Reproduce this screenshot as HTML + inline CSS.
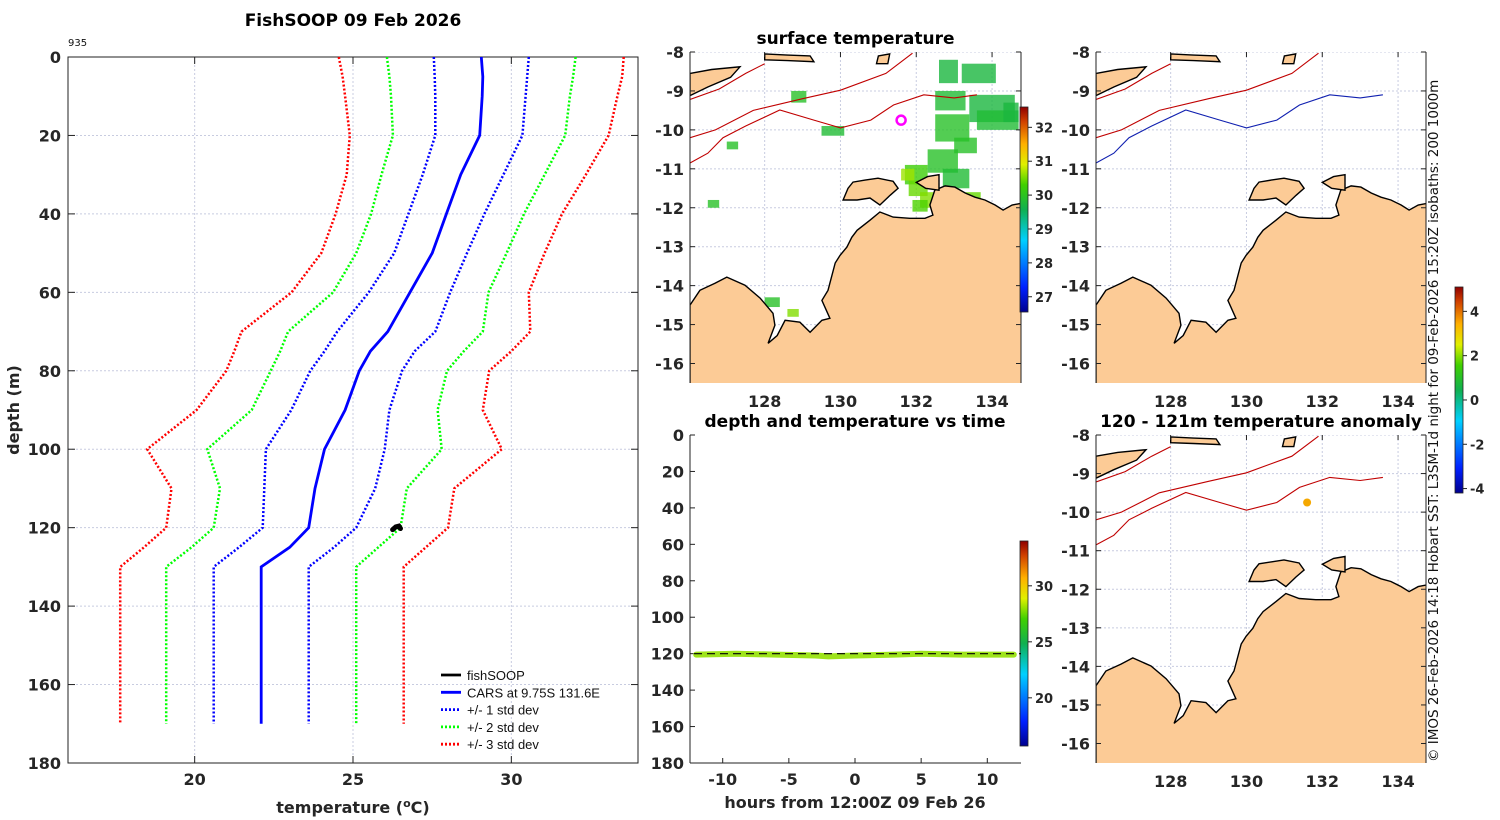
<!DOCTYPE html>
<html><head><meta charset="utf-8"><style>
html,body{margin:0;padding:0;background:#fff}
svg{display:block;font-family:"DejaVu Sans","Liberation Sans",sans-serif}
.tk{font-weight:bold;font-size:16px;fill:#262626}
.tt{font-weight:bold;font-size:17px;fill:#000}
</style></head><body>
<svg id="fig" width="1500" height="820" viewBox="0 0 1500 820" xmlns="http://www.w3.org/2000/svg">
<defs>
<linearGradient id="jet" x1="0" y1="1" x2="0" y2="0">
<stop offset="0" stop-color="#00008f"/><stop offset="0.12" stop-color="#0020ff"/><stop offset="0.35" stop-color="#00d0ff"/><stop offset="0.5" stop-color="#10b050"/><stop offset="0.62" stop-color="#40d000"/><stop offset="0.72" stop-color="#e0f000"/><stop offset="0.82" stop-color="#ffb000"/><stop offset="0.93" stop-color="#d04000"/><stop offset="1" stop-color="#8f0000"/>
</linearGradient>
<clipPath id="c1"><rect x="690" y="52" width="331" height="331"/></clipPath>
<clipPath id="c2"><rect x="1096" y="52" width="330" height="331"/></clipPath>
<clipPath id="c3"><rect x="1096" y="435" width="330" height="328"/></clipPath>
</defs>
<g id="main"></g>
<g id="maps"></g>
<g id="tv"></g>
<text x="0" y="0" transform="translate(1438,762) rotate(-90)" font-size="13.5" fill="#111">© IMOS 26-Feb-2026 14:18 Hobart SST: L3SM-1d night for 09-Feb-2026 15:20Z isobaths: 200  1000m</text>
</svg>
<script>
// ---- profile data ----
const depths = [0,5,10,20,30,40,50,60,70,75,80,90,100,110,120,125,130,170];
const meanT  = [29.05,29.1,29.08,29.0,28.4,27.95,27.5,26.8,26.1,25.55,25.2,24.75,24.1,23.8,23.6,23.0,22.1,22.1];
const m1sd   = [27.55,27.58,27.6,27.6,27.2,26.75,26.3,25.5,24.5,24.1,23.65,23.05,22.25,22.2,22.15,21.4,20.6,20.6];
const p1sd   = [30.55,30.5,30.45,30.35,29.75,29.15,28.6,28.07,27.6,26.95,26.55,26.15,26.0,25.7,25.1,24.4,23.6,23.6];
const m2sd   = [26.07,26.15,26.2,26.26,25.9,25.57,25.1,24.37,22.95,22.7,22.4,21.8,20.4,20.8,20.6,19.9,19.1,19.1];
const p2sd   = [32.03,31.95,31.85,31.7,31.05,30.4,29.85,29.28,29.1,28.5,27.97,27.67,27.8,26.7,26.5,25.8,25.1,25.1];
const m3sd   = [24.55,24.67,24.75,24.9,24.8,24.45,24.0,23.06,21.48,21.25,21.0,20.06,18.5,19.27,19.1,18.4,17.65,17.65];
const p3sd   = [33.55,33.5,33.35,33.07,32.35,31.6,31.05,30.55,30.6,30.0,29.3,29.1,29.7,28.2,28.0,27.3,26.6,26.6];
const fishT  = [26.25,26.35,26.45,26.5];
const fishD  = [120.5,119.8,119.6,120.2];
const tempTicks = [20,25,30];
const depthTicks = [0,20,40,60,80,100,120,140,160,180];
// ---- time panel data ----
const hours = [-12,-9,-6,-3,-2,0,3,5,8,12];
const hourDepth = [120.5,120,120.5,121,121.5,121,120.5,120,120.5,120.5];
const hourTicks = [-10,-5,0,5,10];
const tvDepthTicks = [0,20,40,60,80,100,120,140,160,180];
// ---- map data ----
const lonTicks = [128,130,132,134];
const latTicks = [-8,-9,-10,-11,-12,-13,-14,-15,-16];
const coastLon = [126.03,126.29,126.69,127.0,127.48,127.88,128.22,128.27,128.09,128.33,128.54,128.93,129.2,129.51,129.72,129.51,129.67,129.86,129.99,130.17,130.3,130.44,130.78,131.04,131.39,131.83,132.23,132.44,132.36,132.49,132.76,133.02,133.29,133.55,133.81,134.08,134.29,134.53,134.8,134.8,126.03];
const coastLat = [-14.5,-14.12,-13.94,-13.78,-13.99,-14.32,-14.71,-15.02,-15.48,-15.28,-14.89,-14.94,-15.2,-14.89,-14.84,-14.38,-14.12,-13.42,-13.22,-13.01,-12.76,-12.58,-12.32,-12.11,-12.24,-12.27,-12.27,-12.19,-11.93,-11.55,-11.44,-11.47,-11.62,-11.73,-11.8,-11.93,-12.06,-11.93,-11.88,-16.6,-16.6];
const melLon = [130.07,130.2,130.33,130.65,130.99,131.39,131.52,131.31,131.04,130.78,130.44];
const melLat = [-11.8,-11.5,-11.34,-11.29,-11.24,-11.32,-11.5,-11.68,-11.93,-11.75,-11.8];
const cobLon = [132.0,132.3,132.6,132.6,132.25];
const cobLat = [-11.35,-11.2,-11.15,-11.55,-11.5];
const timLon = [126.03,126.6,127.35,127.1,126.5,126.03];
const timLat = [-8.55,-8.45,-8.38,-8.65,-8.9,-9.12];
const isl1Lon = [128.0,128.6,129.2,129.3,128.6,128.0];
const isl1Lat = [-8.05,-8.08,-8.1,-8.25,-8.22,-8.2];
const isl2Lon = [131.0,131.3,131.25,130.95];
const isl2Lat = [-8.1,-8.05,-8.3,-8.3];
const iso200Lon = [126.03,126.7,127.7,129.0,130.0,131.2,131.9];
const iso200Lat = [-10.2,-10.0,-9.5,-9.2,-8.98,-8.55,-8.03];
const iso1000Lon = [126.03,126.5,126.9,127.5,128.4,129.3,130.0,130.8,131.4,132.2,133.0,133.6];
const iso1000Lat = [-10.85,-10.6,-10.2,-9.9,-9.49,-9.75,-9.95,-9.75,-9.36,-9.1,-9.18,-9.1];
const isoTimLon = [126.03,126.8,127.5,128.0];
const isoTimLat = [-9.22,-8.95,-8.55,-8.3];
// SST patches: lon, lat, width(deg), height(deg), temp
const sstLon = [132.6,133.2,132.5,133.4,132.5,133.6,131.7,132.3,131.8,132.1,132.7,131.6,128.7,129.5,127.0,126.5,131.9,133.0,128.0,128.6,134.3,133.3];
const sstLat = [-8.2,-8.3,-9.0,-9.1,-9.6,-9.5,-10.9,-10.5,-11.3,-11.6,-11.0,-11.0,-9.0,-9.9,-10.3,-11.8,-11.8,-10.2,-14.3,-14.6,-9.3,-11.6];
const sstW = [0.5,0.9,0.8,1.2,0.9,1.1,0.6,0.8,0.5,0.6,0.7,0.35,0.4,0.6,0.3,0.3,0.4,0.6,0.4,0.3,0.4,0.4];
const sstH = [0.6,0.5,0.5,0.7,0.7,0.5,0.5,0.6,0.4,0.4,0.5,0.3,0.3,0.25,0.2,0.2,0.3,0.4,0.25,0.2,0.5,0.2];
const sstT = [29.8,29.8,29.9,29.8,30.0,29.9,30.3,30.0,30.5,30.6,29.9,30.7,30.0,29.9,30.0,30.0,30.4,30.0,30.0,30.6,29.8,30.5];
const stnLon = 131.6, stnLat = -9.75;
const sstCbTicks = [27,28,29,30,31,32];
const anomCbTicks = [-4,-2,0,2,4];
const tvCbTicks = [20,25,30];

const NS='http://www.w3.org/2000/svg';
function mk(parent,tag,attrs,text){const e=document.createElementNS(NS,tag);for(const k in attrs)e.setAttribute(k,attrs[k]);if(text!==undefined)e.textContent=text;parent.appendChild(e);return e;}

// ===== profile chart =====
const main=document.getElementById('main');
const PX0=68,PX1=638,PY0=57,PY1=763;
const tx=t=>PX0+(t-16)/(34-16)*(PX1-PX0);
const dy=d=>PY0+d/180*(PY1-PY0);
let t;
t=mk(main,'text',{x:353,y:26,'text-anchor':'middle',class:'tt'},'FishSOOP 09 Feb 2026');


t=mk(main,'text',{x:68,y:46,'font-size':'10',fill:'#111'},'935');


tempTicks.forEach(v=>{
  const g=mk(main,'line',{x1:tx(v),x2:tx(v),y1:PY0,y2:PY1,stroke:'#c8cce0','stroke-width':1,'stroke-dasharray':'2,2'});
  
  
  mk(main,'line',{x1:tx(v),x2:tx(v),y1:PY1,y2:PY1-7,stroke:'#222'});
  mk(main,'line',{x1:tx(v),x2:tx(v),y1:PY0,y2:PY0+7,stroke:'#222'});
  const l=mk(main,'text',{x:tx(v),y:PY1+22,'text-anchor':'middle',class:'tk'},v);
  
  
});
depthTicks.forEach(v=>{
  if(v>0&&v<180){const g=mk(main,'line',{x1:PX0,x2:PX1,y1:dy(v),y2:dy(v),stroke:'#c8cce0','stroke-width':1,'stroke-dasharray':'2,2'});
  
  }
  mk(main,'line',{x1:PX0,x2:PX0+7,y1:dy(v),y2:dy(v),stroke:'#222'});
  mk(main,'line',{x1:PX1,x2:PX1-7,y1:dy(v),y2:dy(v),stroke:'#222'});
  const l=mk(main,'text',{x:PX0-7,y:dy(v)+6,'text-anchor':'end',class:'tk'},v);
  
  
});
t=mk(main,'rect',{x:PX0,y:PY0,width:PX1-PX0,height:PY1-PY0,fill:'none',stroke:'#222','stroke-width':1});


t=mk(main,'text',{x:353,y:813,'text-anchor':'middle',class:'tk','font-size':'17'});
t.innerHTML='temperature (<tspan baseline-shift="super" font-size="11">o</tspan>C)';


t=mk(main,'text',{x:0,y:0,transform:'translate(19,410) rotate(-90)','text-anchor':'middle',class:'tk','font-size':'17'},'depth (m)');


function series(arr,color,dash,w,name){
  const d=arr.map((v,i)=>(i?'L':'M')+tx(v).toFixed(1)+','+dy(depths[i]).toFixed(1)).join('');
  const p=mk(main,'path',{d:d,fill:'none',stroke:color,'stroke-width':w,'stroke-dasharray':dash});
  
  
}
series(m3sd,'#f00','2,2',2.5,'minus-3sd-line');
series(p3sd,'#f00','2,2',2.5,'plus-3sd-line');
series(m2sd,'#0f0','2,2',2.5,'minus-2sd-line');
series(p2sd,'#0f0','2,2',2.5,'plus-2sd-line');
series(m1sd,'#00f','2,2',2.5,'minus-1sd-line');
series(p1sd,'#00f','2,2',2.5,'plus-1sd-line');
series(meanT,'#00f','none',2.8,'cars-mean-line');
{
  const d=fishT.map((v,i)=>(i?'L':'M')+tx(v).toFixed(1)+','+dy(fishD[i]).toFixed(1)).join('');
  const p=mk(main,'path',{d:d,fill:'none',stroke:'#000','stroke-width':5,'stroke-linecap':'round'});
  
  
}
const legItems=[['fishSOOP','#000','none'],['CARS at 9.75S 131.6E','#00f','none'],['+/- 1 std dev','#00f','2,2'],['+/- 2 std dev','#0f0','2,2'],['+/- 3 std dev','#f00','2,2']];
legItems.forEach((it,i)=>{
  const y=675+i*17.3;
  const g=mk(main,'g',{});
  
  
  mk(g,'line',{x1:441,x2:461,y1:y,y2:y,stroke:it[1],'stroke-width':2.8,'stroke-dasharray':it[2]});
  mk(g,'text',{x:467,y:y+5,'font-size':'13','font-family':'Liberation Sans, sans-serif',fill:'#111'},it[0]);
});

// ===== maps =====
const maps=document.getElementById('maps');
function jet(f){f=Math.max(0,Math.min(1,f));const st=[[0,0,0,143],[0.12,0,32,255],[0.35,0,208,255],[0.5,16,176,80],[0.62,64,208,0],[0.72,224,240,0],[0.82,255,176,0],[0.93,208,64,0],[1,143,0,0]];
 for(let i=1;i<st.length;i++){if(f<=st[i][0]){const a=st[i-1],b=st[i],u=(f-a[0])/(b[0]-a[0]);return 'rgb('+[1,2,3].map(k=>Math.round(a[k]+u*(b[k]-a[k]))).join(',')+')';}}return 'rgb(143,0,0)';}
function drawMap(x0,y0,w,h,clip,opts,name){
  const g=mk(maps,'g',{});
  
  
  const kx=37.9, ky=(h-19.5)/8;
  const X=lon=>x0+(lon-126.03)*kx, Y=lat=>y0+(-8-lat)*ky;
  const cg=mk(g,'g',{'clip-path':'url(#'+clip+')'});
  lonTicks.forEach(v=>mk(cg,'line',{x1:X(v),x2:X(v),y1:y0,y2:y0+h,stroke:'#c8cce0','stroke-dasharray':'2,2'}));
  latTicks.forEach(v=>mk(cg,'line',{x1:x0,x2:x0+w,y1:Y(v),y2:Y(v),stroke:'#c8cce0','stroke-dasharray':'2,2'}));
  if(opts.sst){sstLon.forEach((lo,i)=>{
    const r=mk(cg,'rect',{x:X(lo),y:Y(sstLat[i]),width:sstW[i]*kx,height:sstH[i]*ky,fill:jet((sstT[i]-26.7)/(32.6-26.7)),opacity:0.8});
    
    
  });}
  const poly=(lo,la,close)=>lo.map((v,i)=>(i?'L':'M')+X(v).toFixed(1)+','+Y(la[i]).toFixed(1)).join('')+(close?'Z':'');
  [[coastLon,coastLat],[melLon,melLat],[cobLon,cobLat],[timLon,timLat],[isl1Lon,isl1Lat],[isl2Lon,isl2Lat]].forEach(p=>{
    const l=mk(cg,'path',{d:poly(p[0],p[1],true),fill:'#fccb96',stroke:'#000','stroke-width':1.4});
    
    
  });
  let c=mk(cg,'path',{d:poly(iso200Lon,iso200Lat),fill:'none',stroke:'#c00000','stroke-width':1.1});
  
  
  c=mk(cg,'path',{d:poly(iso1000Lon,iso1000Lat),fill:'none',stroke:opts.blue?'#1020b0':'#c00000','stroke-width':1.1});
  
  
  mk(cg,'path',{d:poly(isoTimLon,isoTimLat),fill:'none',stroke:'#c00000','stroke-width':1.1});
  if(opts.circle){c=mk(g,'circle',{cx:X(stnLon),cy:Y(stnLat),r:4.5,fill:'none',stroke:'#f0f','stroke-width':2.5});
    
    }
  if(opts.dot){c=mk(g,'circle',{cx:X(stnLon),cy:Y(stnLat),r:4,fill:'#f5a800'});
    
    }
  mk(g,'line',{x1:x0,x2:x0,y1:y0,y2:y0+h,stroke:'#222'});
  mk(g,'line',{x1:x0+w,x2:x0+w,y1:y0,y2:y0+h,stroke:'#222'});
  lonTicks.forEach(v=>{mk(g,'line',{x1:X(v),x2:X(v),y1:y0,y2:y0+5,stroke:'#222'});
    const l=mk(g,'text',{x:X(v),y:y0+h+24,'text-anchor':'middle',class:'tk'},v);
    
    });
  latTicks.forEach(v=>{mk(g,'line',{x1:x0,x2:x0+5,y1:Y(v),y2:Y(v),stroke:'#222'});mk(g,'line',{x1:x0+w,x2:x0+w-5,y1:Y(v),y2:Y(v),stroke:'#222'});
    const l=mk(g,'text',{x:x0-6,y:Y(v)+6,'text-anchor':'end',class:'tk'},v);
    
    });
  if(opts.title){const l=mk(g,'text',{x:x0+w/2,y:y0-8,'text-anchor':'middle',class:'tt'},opts.title);
    
    }
}
drawMap(690,52,331,331,'c1',{sst:true,circle:true,title:'surface temperature'},'sst-map');
drawMap(1096,52,330,331,'c2',{blue:true},'bathymetry-map');
drawMap(1096,435,330,328,'c3',{dot:true,title:'120 - 121m temperature anomaly'},'anomaly-map');

function colorbar(x,y0,y1,vmin,vmax,ticks,name){
  const g=mk(maps,'g',{});
  
  
  mk(g,'rect',{x:x,y:y0,width:8,height:y1-y0,fill:'url(#jet)',stroke:'#222','stroke-width':0.8});
  ticks.forEach(v=>{const y=y1-(v-vmin)/(vmax-vmin)*(y1-y0);
    mk(g,'line',{x1:x+8,x2:x+12,y1:y,y2:y,stroke:'#222'});
    mk(g,'text',{x:x+15,y:y+5,'font-size':'13','font-weight':'bold',fill:'#262626'},v);});
}
colorbar(1020,107,312,26.55,32.6,sstCbTicks,'sst-colorbar');
colorbar(1455,287,493,-4.2,5.1,anomCbTicks,'anomaly-colorbar');
colorbar(1020,541,746,15.7,34.0,tvCbTicks,'time-colorbar');

// ===== time panel =====
const tv=document.getElementById('tv');
const TX0=690,TX1=1021,TY0=435,TY1=763;
const hx=h=>855+h*13.23;
const ty=d=>TY0+d/180*(TY1-TY0);
t=mk(tv,'text',{x:855,y:427,'text-anchor':'middle',class:'tt'},'depth and temperature vs time');


mk(tv,'line',{x1:TX0,x2:TX0,y1:TY0,y2:TY1,stroke:'#222'});
mk(tv,'line',{x1:TX0,x2:TX1,y1:TY1,y2:TY1,stroke:'#222'});
hourTicks.forEach(v=>{mk(tv,'line',{x1:hx(v),x2:hx(v),y1:TY1,y2:TY1-5,stroke:'#222'});
  const l=mk(tv,'text',{x:hx(v),y:TY1+22,'text-anchor':'middle',class:'tk'},v);
  
  });
tvDepthTicks.forEach(v=>{mk(tv,'line',{x1:TX0,x2:TX0+5,y1:ty(v),y2:ty(v),stroke:'#222'});
  const l=mk(tv,'text',{x:TX0-6,y:ty(v)+6,'text-anchor':'end',class:'tk'},v);
  
  });
{
  const d=hours.map((h,i)=>(i?'L':'M')+hx(h).toFixed(1)+','+ty(hourDepth[i]).toFixed(1)).join('');
  const p=mk(tv,'path',{d:d,fill:'none',stroke:'#9ee41a','stroke-width':6,'stroke-linecap':'round'});
  
  
  const dl=mk(tv,'line',{x1:TX0+4,x2:TX1,y1:ty(120),y2:ty(120),stroke:'#000','stroke-width':1.2,'stroke-dasharray':'8,5'});
  
  
}
t=mk(tv,'text',{x:855,y:808,'text-anchor':'middle',class:'tk','font-size':'17'},'hours from 12:00Z 09 Feb 26');


</script>
</body></html>
